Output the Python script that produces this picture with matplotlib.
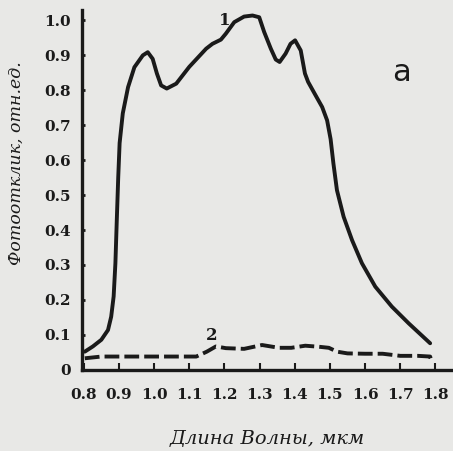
import numpy as np
import matplotlib.pyplot as plt

# curve 1 (solid) and curve 2 (dashed)
wl1 = [0.803, 0.826, 0.85, 0.869, 0.878, 0.885, 0.89, 0.894, 0.898, 0.902, 0.911, 0.926, 0.944,
       0.968, 0.982, 0.996, 1.008, 1.02, 1.036, 1.063, 1.10, 1.148, 1.166, 1.19, 1.204, 1.228,
       1.256, 1.28, 1.299, 1.313, 1.332, 1.346, 1.357, 1.374, 1.388, 1.401, 1.417, 1.429, 1.438,
       1.459, 1.478, 1.492, 1.502, 1.51, 1.52, 1.539, 1.563, 1.591, 1.629, 1.676, 1.724, 1.785]
ph1 = [0.052, 0.067, 0.086, 0.114, 0.152, 0.21, 0.305, 0.43, 0.55, 0.649, 0.734, 0.809, 0.866,
       0.90, 0.909, 0.89, 0.848, 0.814, 0.805, 0.819, 0.867, 0.919, 0.933, 0.945, 0.962, 0.995,
       1.011, 1.014, 1.009, 0.967, 0.919, 0.888, 0.881, 0.905, 0.933, 0.943, 0.914, 0.848, 0.824,
       0.786, 0.752, 0.714, 0.66, 0.59, 0.514, 0.438, 0.371, 0.305, 0.238, 0.181, 0.133, 0.076]
wl2 = [0.803, 0.85, 0.95, 1.05, 1.12, 1.15, 1.176, 1.204, 1.256, 1.307, 1.355, 1.39, 1.43,
       1.469, 1.497, 1.52, 1.55, 1.60, 1.65, 1.70, 1.75, 1.785, 1.79]
ph2 = [0.033, 0.038, 0.038, 0.038, 0.038, 0.052, 0.067, 0.062, 0.06, 0.071, 0.063, 0.063, 0.069,
       0.066, 0.063, 0.052, 0.047, 0.046, 0.046, 0.04, 0.04, 0.038, 0.02]

xticks = [0.8, 0.9, 1.0, 1.1, 1.2, 1.3, 1.4, 1.5, 1.6, 1.7, 1.8]
xlabels = ['0.8', '0.9', '1.0', '1.1', '1.2', '1.3', '1.4', '1.5', '1.6', '1.7', '1.8']
yticks = [0, 0.1, 0.2, 0.3, 0.4, 0.5, 0.6, 0.7, 0.8, 0.9, 1.0]
ylabels = ['0', '0.1', '0.2', '0.3', '0.4', '0.5', '0.6', '0.7', '0.8', '0.9', '1.0']

bg = '#e8e8e6'
ink = '#1a1a1a'

fig = plt.figure(figsize=(4.53, 4.51), dpi=100, facecolor=bg)
ax = fig.add_axes([0.181, 0.18, 0.819, 0.798], facecolor=bg)

ax.plot(wl1, ph1, color=ink, lw=2.8, solid_capstyle='round', solid_joinstyle='round')
ax.plot(wl2, ph2, color=ink, lw=2.8, dashes=(3.8, 1.3))

ax.set_xlim(0.795, 1.85)
ax.set_ylim(0, 1.03)
for s in ['top', 'right']:
    ax.spines[s].set_visible(False)
for s in ['left', 'bottom']:
    ax.spines[s].set_linewidth(2.4)
    ax.spines[s].set_color(ink)

ax.set_xticks(xticks)
ax.set_xticklabels(xlabels)
ax.set_yticks(yticks)
ax.set_yticklabels(ylabels)
ax.tick_params(axis='x', direction='in', length=5, width=1.5, colors=ink, labelsize=11, pad=13)
ax.tick_params(axis='y', direction='in', length=2, width=2, colors=ink, labelsize=11, pad=8)
for t in ax.get_xticklabels() + ax.get_yticklabels():
    t.set_family('DejaVu Serif')
    t.set_fontweight('bold')

ax.set_xlabel('Длина Волны, мкм', fontsize=14, color=ink, family='DejaVu Serif',
              style='italic', labelpad=20)
ax.set_ylabel('Фотоотклик, отн.ед.', fontsize=12.5, color=ink, family='DejaVu Serif',
              style='italic')
ax.yaxis.set_label_coords(-0.155, 0.575)

ax.text(1.20, 1.0, '1', fontsize=12, color=ink, family='DejaVu Serif', fontweight='bold',
        ha='center', va='center')
ax.text(1.163, 0.097, '2', fontsize=12, color=ink, family='DejaVu Serif', fontweight='bold',
        ha='center', va='center')
ax.text(1.704, 0.85, 'a', fontsize=22, color=ink, family='DejaVu Sans', ha='center', va='center')

fig.savefig('out.png', dpi=100, facecolor=bg)
